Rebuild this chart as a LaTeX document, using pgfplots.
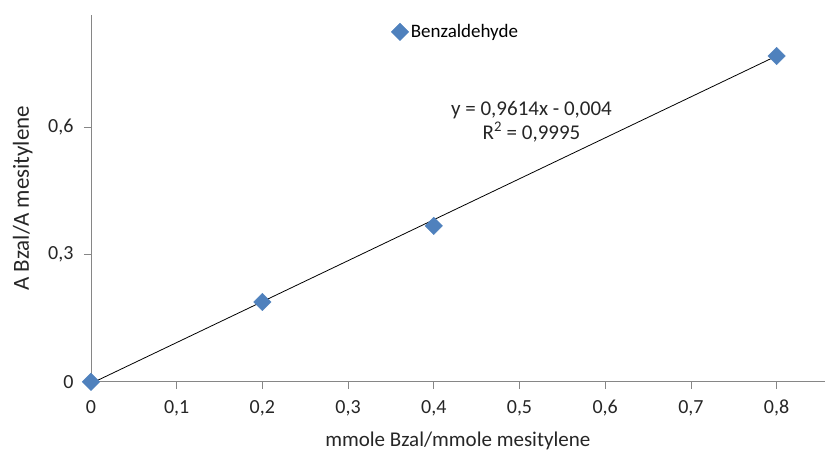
\documentclass[border=0pt]{standalone}
\usepackage{pgfplots}
\pgfplotsset{compat=1.18}
\usepackage{fontspec}
\setmainfont{Carlito}
\definecolor{exblue}{HTML}{4F81BD}
\definecolor{axgray}{HTML}{868686}
\begin{document}
\begin{tikzpicture}[x=1pt,y=1pt]
\begin{axis}[
    at={(0,0)}, anchor=origin,
    scale only axis,
    width=734pt, height=367pt,
    xmin=0, xmax=0.856,
    ymin=0, ymax=0.8635,
    axis x line=bottom, axis y line=left,
    axis line style={-, draw=axgray, line width=0.8pt},
    tick style={draw=axgray, line width=0.8pt},
    tick align=outside,
    major tick length=7pt,
    xtick={0,0.1,...,0.8},
    ytick={0,0.3,0.6},
    /pgf/number format/assume math mode=true,
    /pgf/number format/use comma,
    /pgf/number format/fixed,
    /pgf/number format/precision=1,
    ticklabel style={font=\fontsize{20}{23}\selectfont, text=black!85},
    xticklabel style={yshift=-8pt},
    yticklabel style={xshift=-7pt},
    xlabel={mmole Bzal/mmole mesitylene},
    ylabel={A Bzal/A mesitylene},
    label style={font=\fontsize{21}{24}\selectfont, text=black!85},
    xlabel style={at={(axis description cs:0.5,0)}, anchor=center, yshift=-59pt},
    ylabel style={at={(axis description cs:-0.093,0.5)}, anchor=center,
        font=\fontsize{23}{26}\selectfont},
    legend style={at={(rel axis cs:0.405,0.954)}, anchor=west, draw=none, fill=none,
        font=\fontsize{19}{22}\selectfont},
    clip=false,
]
\addplot[exblue, only marks, mark=square*, mark size=6.2pt,
    mark options={rotate=45, draw=exblue, fill=exblue}]
    coordinates {(0,0)(0.2,0.188)(0.4,0.367)(0.8,0.767)};
\addlegendentry{Benzaldehyde}
\addplot[black, line width=0.8pt, forget plot]
    coordinates {(0,-0.004)(0.8,0.76712)};
\node[align=center, font=\fontsize{21}{24}\selectfont, text=black!85, inner sep=0pt]
    at (axis cs:0.514,0.613) {y = 0,9614x - 0,004\\R\textsuperscript{2} = 0,9995};
\end{axis}
\path[use as bounding box] (-91,-78) rectangle (734,382);
\end{tikzpicture}
\end{document}
